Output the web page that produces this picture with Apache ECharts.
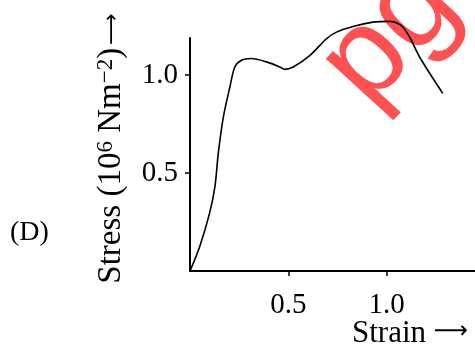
<!DOCTYPE html>
<html>
<head>
<meta charset="utf-8">
<script src="https://cdn.jsdelivr.net/npm/echarts@6/dist/echarts.min.js"></script>
<style>
  html, body { margin: 0; padding: 0; background: #fff; }
  #chart { width: 475px; height: 351px; }
</style>
</head>
<body>
<div id="chart"></div>
<script>
// values
var strain = [0, 0.05, 0.10, 0.127, 0.144, 0.17, 0.203, 0.228, 0.262, 0.312, 0.389, 0.457, 0.482, 0.525, 0.609, 0.694, 0.745, 0.829, 0.931, 1.015, 1.074, 1.117, 1.168, 1.286];
var stress = [0, 0.127, 0.297, 0.432, 0.602, 0.788, 0.94, 1.042, 1.076, 1.085, 1.068, 1.042, 1.03, 1.042, 1.10, 1.186, 1.22, 1.249, 1.271, 1.275, 1.254, 1.195, 1.093, 0.907];
var xTicks = [0.5, 1.0];
var yTicks = [0.5, 1.0];

var serif = '"Liberation Serif", "DejaVu Serif", serif';
var arrowFont = '"DejaVu Sans", sans-serif';
var chart = echarts.init(document.getElementById('chart'), null, { renderer: 'canvas' });

var points = strain.map(function (s, i) { return [s, stress[i]]; });

var option = {
  animation: false,
  backgroundColor: '#fff',
  grid: { left: 190, top: 38, right: 0, bottom: 80 },
  xAxis: {
    type: 'value',
    min: 0,
    max: 1.45,
    splitLine: { show: false },
    axisLine: { lineStyle: { color: '#000', width: 2 } },
    axisTick: { customValues: xTicks, length: 5, lineStyle: { color: '#000', width: 1.5 } },
    axisLabel: {
      customValues: xTicks,
      formatter: function (v) { return v.toFixed(1); },
      margin: 20,
      color: '#000',
      fontFamily: serif,
      fontSize: 29
    }
  },
  yAxis: {
    type: 'value',
    min: 0,
    max: 1.19,
    splitLine: { show: false },
    axisLine: { lineStyle: { color: '#000', width: 2 } },
    axisTick: { customValues: yTicks, length: 5, lineStyle: { color: '#000', width: 1.5 } },
    axisLabel: {
      customValues: yTicks,
      formatter: function (v) { return v.toFixed(1); },
      margin: 12,
      color: '#000',
      fontFamily: serif,
      fontSize: 29
    },
    name: '{a|Stress (10}{s|6}{a| Nm}{s|\u22122}{a|)}{r|\u27F6}',
    nameLocation: 'middle',
    nameRotate: 90,
    nameGap: 62,
    nameTextStyle: {
      padding: [0, 0, 0, 12],
      rich: {
        a: { fontFamily: serif, fontSize: 33, color: '#000', lineHeight: 34, verticalAlign: 'bottom' },
        s: { fontFamily: serif, fontSize: 23, color: '#000', lineHeight: 34, verticalAlign: 'top' },
        r: { fontFamily: arrowFont, fontSize: 22, color: '#000', lineHeight: 34, verticalAlign: 'bottom', padding: [0, 0, 5, 3] }
      }
    }
  },
  graphic: [
    {
      type: 'text', z: 0,
      x: 390, y: 35, rotation: 0.83,
      style: {
        text: 'pg',
        fontFamily: '"Liberation Sans", Arial, sans-serif',
        fontSize: 124,
        fill: 'rgba(255, 50, 50, 0.85)',
        align: 'center',
        verticalAlign: 'middle'
      }
    },
    {
      type: 'text', z: 10,
      left: 10, top: 219,
      style: { text: '(D)', fontFamily: serif, fontSize: 28, fill: '#000' }
    },
    {
      type: 'text', z: 10,
      left: 352, top: 318,
      style: {
        text: '{a|Strain }{r|\u27F6}',
        rich: {
          a: { fontFamily: serif, fontSize: 31, fill: '#000', lineHeight: 34, verticalAlign: 'bottom' },
          r: { fontFamily: arrowFont, fontSize: 24, fill: '#000', lineHeight: 34, verticalAlign: 'bottom', padding: [0, 0, 5, 0] }
        }
      }
    }
  ],
  series: [{
    type: 'line',
    data: points,
    smooth: 0.3,
    clip: false,
    showSymbol: false,
    z: 5,
    lineStyle: { color: '#000', width: 1.6 }
  }]
};

chart.setOption(option);
</script>
</body>
</html>
